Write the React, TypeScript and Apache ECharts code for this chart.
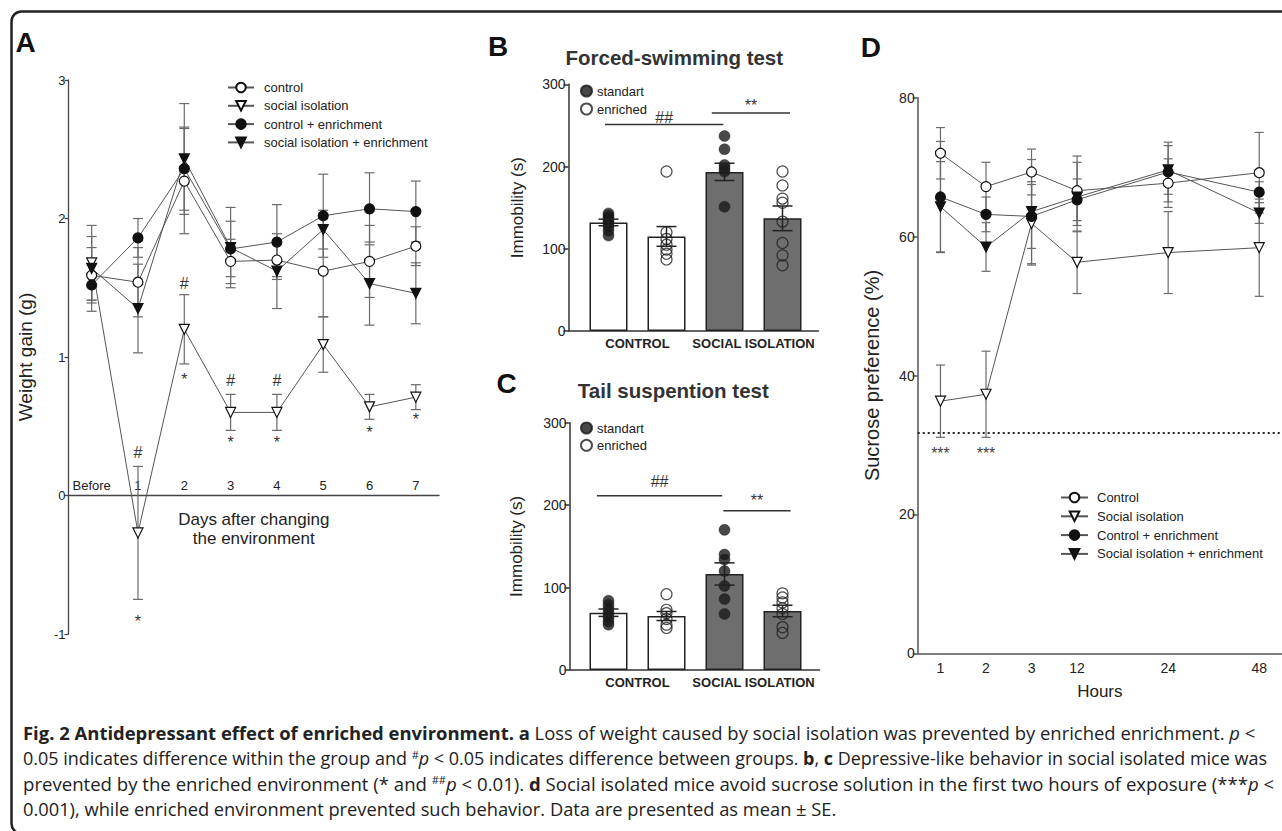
import { useEffect, useRef } from 'react';
import * as echarts from 'echarts';

const FONT = '"Liberation Sans", Arial, Helvetica, sans-serif';
const CAPTION_FONT = '"Open Sans", sans-serif';

// ---------------- Panel A: weight gain ----------------
const A_DAYS = ['Before', '1', '2', '3', '4', '5', '6', '7'];
const A_CONTROL = [1.59, 1.54, 2.27, 1.69, 1.70, 1.62, 1.69, 1.80];
const A_CONTROL_SE = [0.20, 0.25, 0.38, 0.16, 0.12, 0.33, 0.26, 0.14];
const A_ISO = [1.68, -0.27, 1.20, 0.60, 0.60, 1.09, 0.64, 0.71];
const A_ISO_SE = [0.27, 0.48, 0.25, 0.13, 0.13, 0.20, 0.09, 0.09];
const A_CTRL_ENR = [1.52, 1.86, 2.36, 1.78, 1.83, 2.02, 2.07, 2.05];
const A_CTRL_ENR_SE = [0.19, 0.14, 0.30, 0.20, 0.27, 0.30, 0.26, 0.22];
const A_ISO_ENR = [1.64, 1.35, 2.43, 1.79, 1.62, 1.92, 1.53, 1.46];
const A_ISO_ENR_SE = [0.23, 0.32, 0.40, 0.29, 0.27, 0.14, 0.30, 0.22];
const A_HASH = [[1, 0.31], [2, 1.53], [3, 0.83], [4, 0.83]];
const A_STAR = [[1, -0.885], [2, 0.864], [3, 0.41], [4, 0.41], [6, 0.48], [7, 0.575]];

// ---------------- Panels B / C ----------------
const BC_GROUPS = ['CONTROL', 'SOCIAL ISOLATION'];
const BC_BARS = ['control standart', 'control enriched', 'isolation standart', 'isolation enriched'];

const B_MEAN = [132, 115, 193.5, 137];
const B_SE = [4, 12, 10.5, 15];
const B_STD_CONTROL = [143, 140, 137, 134, 131, 127, 122, 116];
const B_ENR_CONTROL = [194, 120, 112, 105, 99, 94, 87];
const B_STD_ISO = [237, 221, 202, 198, 194, 151];
const B_ENR_ISO = [194, 177, 161, 156, 133, 107, 92, 80];
const B_SIG: [number, number, number, string][] = [[-0.06, 1.98, 251, '##'], [1.78, 3.13, 265, '**']];

const C_MEAN = [69.5, 65.5, 116.5, 71.6];
const C_SE = [4.5, 5.5, 13.5, 7];
const C_STD_CONTROL = [84, 79, 74, 69, 64, 59, 55];
const C_ENR_CONTROL = [92, 73, 69, 62, 55, 51];
const C_STD_ISO = [170, 140, 134, 120, 102, 86, 68];
const C_ENR_ISO = [93, 88, 82, 75, 68, 52, 45];
const C_SIG: [number, number, number, string][] = [[-0.2, 1.96, 211.5, '##'], [1.98, 3.14, 193.3, '**']];

// ---------------- Panel D: sucrose preference ----------------
const D_HOURS = ['1', '2', '3', '12', '24', '48'];
const D_CONTROL = [72.0, 67.2, 69.3, 66.6, 67.7, 69.2];
const D_CONTROL_SE = [3.7, 3.5, 3.3, 5.0, 3.5, 5.8];
const D_ISO = [36.3, 37.3, 61.9, 56.3, 57.7, 58.4];
const D_ISO_SE = [5.2, 6.2, 6.0, 4.5, 5.9, 7.0];
const D_CTRL_ENR = [65.7, 63.2, 62.9, 65.3, 69.3, 66.4];
const D_CTRL_ENR_SE = [8.0, 2.5, 4.6, 3.0, 4.3, 1.5];
const D_ISO_ENR = [64.3, 58.5, 63.6, 65.7, 69.6, 63.4];
const D_ISO_ENR_SE = [6.5, 3.5, 7.5, 5.0, 3.5, 1.5];
const D_CHANCE = 31.8;
const D_STAR: [string, number][] = [['1', 29.3], ['2', 29.3]];

// ---------------- caption ----------------
const CAPTION_LINES = [
  '{b|Fig. 2 Antidepressant effect of enriched environment. a} Loss of weight caused by social isolation was prevented by enriched enrichment. {i|p} <',
  '0.05 indicates difference within the group and {s|#}{i|p} < 0.05 indicates difference between groups. {b|b}, {b|c} Depressive-like behavior in social isolated mice was',
  'prevented by the enriched environment (* and {s|##}{i|p} < 0.01). {b|d} Social isolated mice avoid sucrose solution in the first two hours of exposure (***{i|p} <',
  '0.001), while enriched environment prevented such behavior. Data are presented as mean ± SE.',
];

// ---------------- layout (not data) ----------------
const D_SLOT = [0, 1, 2, 3, 5, 7]; // where each hour sits on the 8-slot axis
const D_NSLOTS = 8;
const BAR_FILL = ['#ffffff', '#ffffff', '#6e6e6e', '#6e6e6e'];
const B_SIG_GAP = [7, 11];
const C_SIG_GAP = [14, 14];
const CAPTION_Y = [732, 757.5, 783, 808.5];
const CAPTION_SIZE = [18.46, 17.98, 18.6, 18.3];

const starShift = (t: string, size: number) => (t.indexOf('*') >= 0 ? size * 0.23 : 0);

const errRender = (cap: number, color: string, width: number) => (params: any, api: any) => {
  const x = api.value(0);
  const m = api.value(1);
  const e = api.value(2);
  const hi = api.coord([x, m + e]);
  const lo = api.coord([x, m - e]);
  const st = { stroke: color, lineWidth: width, fill: 'none' };
  return {
    type: 'group',
    children: [
      { type: 'line', shape: { x1: hi[0], y1: hi[1], x2: lo[0], y2: lo[1] }, style: st },
      { type: 'line', shape: { x1: hi[0] - cap / 2, y1: hi[1], x2: hi[0] + cap / 2, y2: hi[1] }, style: st },
      { type: 'line', shape: { x1: lo[0] - cap / 2, y1: lo[1], x2: lo[0] + cap / 2, y2: lo[1] }, style: st },
    ],
  };
};

const textRender = (txt: string, size: number, color: string) => (params: any, api: any) => {
  const c = api.coord([api.value(0), api.value(1)]);
  return {
    type: 'text',
    x: c[0],
    y: c[1] + starShift(txt, size),
    style: { text: txt, fontFamily: FONT, fontSize: size, fill: color, align: 'center', verticalAlign: 'middle' },
  };
};

const sigRender = (sigs: [number, number, number, string][], gaps: number[]) => (params: any, api: any) => {
  const s = sigs[params.dataIndex];
  const a = api.coord([s[0], s[2]]);
  const b = api.coord([s[1], s[2]]);
  const size = 16;
  return {
    type: 'group',
    children: [
      { type: 'line', shape: { x1: a[0], y1: a[1], x2: b[0], y2: b[1] }, style: { stroke: '#333', lineWidth: 1.5 } },
      {
        type: 'text',
        x: (a[0] + b[0]) / 2,
        y: a[1] - gaps[params.dataIndex] + starShift(s[3], size),
        style: { text: s[3], fontFamily: FONT, fontSize: size, fill: '#333', align: 'center', verticalAlign: 'middle' },
      },
    ],
  };
};

const toSlots = (vals: number[]) => {
  const out: (number | null)[] = Array(D_NSLOTS).fill(null);
  D_SLOT.forEach((s, i) => {
    out[s] = vals[i];
  });
  return out;
};

function buildOption() {
  const axisText = { fontFamily: FONT, color: '#222' };

  // ---------- grids ----------
  const A_TOP = 80;
  const A_H = 554;
  const A_MIN = -1;
  const A_MAX = 3;
  const grid = [
    { left: 68.5, top: A_TOP, width: 370.5, height: A_H }, // 0 A
    { left: 579.5, top: 84.3, width: 232, height: 246.7 }, // 1 B
    { left: 568.5, top: 84.3, width: 250, height: 246.7 }, // 2 B line
    { left: 579.5, top: 422.7, width: 232, height: 247.3 }, // 3 C
    { left: 569.5, top: 422.7, width: 250, height: 247.3 }, // 4 C line
    { left: 917.7, top: 97.7, width: 371.2, height: 555.6 }, // 5 D
  ];
  // the A x-axis sits at weight gain = 0
  const aZeroOffset = -((0 - A_MIN) / (A_MAX - A_MIN)) * A_H;

  const dCats: string[] = Array(D_NSLOTS).fill('');
  D_SLOT.forEach((s, i) => {
    dCats[s] = D_HOURS[i];
  });

  const barSlotAxis = (gi: number) => ({ type: 'category', gridIndex: gi, data: BC_BARS, show: false });
  const groupAxis = (gi: number) => ({
    type: 'category',
    gridIndex: gi,
    data: BC_GROUPS,
    position: 'bottom',
    axisLine: { show: false },
    axisTick: { show: false },
    axisLabel: { ...axisText, fontSize: 13, fontWeight: 'bold', margin: 6, interval: 0, hideOverlap: false },
  });
  const lineAxis = (gi: number, left: number) => ({
    type: 'value',
    gridIndex: gi,
    min: -((608.5 - left) / 58),
    max: -((608.5 - left) / 58) + 250 / 58,
    axisLine: { show: true, lineStyle: { color: '#333', width: 1.5 } },
    axisTick: { show: false },
    axisLabel: { show: false },
    splitLine: { show: false },
  });

  const xAxis: any[] = [
    {
      type: 'category',
      gridIndex: 0,
      data: A_DAYS,
      boundaryGap: true,
      position: 'bottom',
      offset: aZeroOffset,
      axisLine: { onZero: false, lineStyle: { color: '#444', width: 1.3 } },
      axisTick: { alignWithLabel: true, length: 5, lineStyle: { color: '#444', width: 1.3 } },
      axisLabel: { ...axisText, inside: true, fontSize: 13, margin: 4, interval: 0, hideOverlap: false },
      name: 'Days after changing\nthe environment',
      nameLocation: 'middle',
      nameGap: 14,
      nameTextStyle: { ...axisText, fontSize: 17, lineHeight: 19, verticalAlign: 'top' },
    },
    barSlotAxis(1),
    groupAxis(1),
    lineAxis(2, 568.5),
    barSlotAxis(3),
    groupAxis(3),
    lineAxis(4, 569.5),
    {
      type: 'category',
      gridIndex: 5,
      data: dCats,
      boundaryGap: true,
      axisLine: { lineStyle: { color: '#555', width: 1.5 } },
      axisTick: {
        alignWithLabel: true,
        length: 5,
        interval: (i: number, v: string) => v !== '',
        lineStyle: { color: '#555', width: 1.5 },
      },
      axisLabel: { ...axisText, fontSize: 14, margin: 8, interval: 0 },
      name: 'Hours',
      nameLocation: 'middle',
      nameGap: 30,
      nameTextStyle: { ...axisText, fontSize: 17 },
    },
  ];

  const barY = (gi: number, name: string, gap: number, offset: number) => ({
    type: 'value',
    gridIndex: gi,
    min: 0,
    max: 300,
    interval: 100,
    offset,
    axisLine: { show: true, lineStyle: { color: '#333', width: 1.5 } },
    axisTick: { show: true, length: 5, lineStyle: { color: '#333', width: 1.5 } },
    axisLabel: { ...axisText, fontSize: 14, margin: 3 },
    splitLine: { show: false },
    name,
    nameLocation: 'middle',
    nameGap: gap,
    nameTextStyle: { ...axisText, fontSize: 17 },
  });
  const hiddenY = (gi: number) => ({ type: 'value', gridIndex: gi, min: 0, max: 300, show: false, splitLine: { show: false } });

  const yAxis: any[] = [
    {
      type: 'value',
      gridIndex: 0,
      min: A_MIN,
      max: A_MAX,
      interval: 1,
      axisLine: { show: true, lineStyle: { color: '#444', width: 1.3 } },
      axisTick: { show: true, length: 4, lineStyle: { color: '#444', width: 1.3 } },
      axisLabel: { ...axisText, fontSize: 13, margin: 3 },
      splitLine: { show: false },
      name: 'Weight gain (g)',
      nameLocation: 'middle',
      nameGap: 34,
      nameTextStyle: { ...axisText, fontSize: 19 },
    },
    barY(1, 'Immobility (s)', 43, 11),
    hiddenY(2),
    barY(3, 'Immobility (s)', 45, 10),
    hiddenY(4),
    {
      type: 'value',
      gridIndex: 5,
      min: 0,
      max: 80,
      interval: 20,
      axisLine: { show: true, lineStyle: { color: '#555', width: 1.5 } },
      axisTick: { show: true, length: 5, lineStyle: { color: '#555', width: 1.5 } },
      axisLabel: { ...axisText, fontSize: 14, margin: 3 },
      splitLine: { show: false },
      name: 'Sucrose preference (%)',
      nameLocation: 'middle',
      nameGap: 36,
      nameTextStyle: { ...axisText, fontSize: 20 },
    },
  ];

  const series: any[] = [];

  // ---------- A ----------
  const aDefs = [
    { name: 'control', data: A_CONTROL, se: A_CONTROL_SE, symbol: 'circle', rot: 0, fill: '#ffffff' },
    { name: 'social isolation', data: A_ISO, se: A_ISO_SE, symbol: 'triangle', rot: 180, fill: '#ffffff' },
    { name: 'control + enrichment', data: A_CTRL_ENR, se: A_CTRL_ENR_SE, symbol: 'circle', rot: 0, fill: '#111111' },
    { name: 'social isolation + enrichment', data: A_ISO_ENR, se: A_ISO_ENR_SE, symbol: 'triangle', rot: 180, fill: '#111111' },
  ];
  aDefs.forEach((d) => {
    series.push({
      type: 'custom',
      xAxisIndex: 0,
      yAxisIndex: 0,
      z: 2,
      silent: true,
      data: d.data.map((m, i) => [i, m, d.se[i]]),
      renderItem: errRender(10, '#6a6a6a', 1.2),
    });
  });
  aDefs.forEach((d) => {
    series.push({
      type: 'line',
      name: d.name,
      xAxisIndex: 0,
      yAxisIndex: 0,
      z: 3,
      data: d.data,
      symbol: d.symbol,
      symbolRotate: d.rot,
      symbolSize: 10,
      itemStyle: { color: d.fill, borderColor: '#111', borderWidth: 1.2 },
      lineStyle: { color: '#555', width: 1 },
    });
  });
  series.push({ type: 'custom', xAxisIndex: 0, yAxisIndex: 0, z: 4, silent: true, data: A_HASH, renderItem: textRender('#', 16, '#333') });
  series.push({ type: 'custom', xAxisIndex: 0, yAxisIndex: 0, z: 4, silent: true, data: A_STAR, renderItem: textRender('*', 16, '#333') });

  // ---------- B / C ----------
  const barPanel = (xi: number, yi: number, xLine: number, yLine: number, mean: number[], se: number[],
    stdC: number[], enrC: number[], stdI: number[], enrI: number[], sig: [number, number, number, string][], gaps: number[]) => {
    series.push({
      type: 'bar',
      xAxisIndex: xi,
      yAxisIndex: yi,
      z: 2,
      barWidth: 38,
      data: mean.map((v, i) => ({ value: v, itemStyle: { color: BAR_FILL[i] } })),
      itemStyle: { borderColor: '#222', borderWidth: 1.5 },
    });
    series.push({
      type: 'scatter',
      name: 'standart',
      xAxisIndex: xi,
      yAxisIndex: yi,
      z: 4,
      symbolSize: 11,
      data: [...stdC.map((v) => [0, v]), ...stdI.map((v) => [2, v])],
      itemStyle: { color: '#1a1a1a', borderColor: '#1a1a1a', borderWidth: 0.5 },
    });
    series.push({
      type: 'scatter',
      name: 'enriched',
      xAxisIndex: xi,
      yAxisIndex: yi,
      z: 4,
      symbolSize: 11,
      data: [...enrC.map((v) => [1, v]), ...enrI.map((v) => [3, v])],
      itemStyle: { color: 'rgba(0,0,0,0)', borderColor: '#222', borderWidth: 1.2 },
    });
    series.push({
      type: 'custom',
      xAxisIndex: xi,
      yAxisIndex: yi,
      z: 5,
      silent: true,
      data: mean.map((m, i) => [i, m, se[i]]),
      renderItem: errRender(20, '#222', 1.5),
    });
    series.push({
      type: 'custom',
      xAxisIndex: xLine,
      yAxisIndex: yLine,
      z: 5,
      silent: true,
      data: sig.map((s) => [s[0], s[1], s[2]]),
      encode: { x: [0, 1], y: 2 },
      renderItem: sigRender(sig, gaps),
    });
  };
  barPanel(1, 1, 3, 2, B_MEAN, B_SE, B_STD_CONTROL, B_ENR_CONTROL, B_STD_ISO, B_ENR_ISO, B_SIG, B_SIG_GAP);
  barPanel(4, 3, 6, 4, C_MEAN, C_SE, C_STD_CONTROL, C_ENR_CONTROL, C_STD_ISO, C_ENR_ISO, C_SIG, C_SIG_GAP);

  // ---------- D ----------
  const dDefs = [
    { name: 'Control', data: D_CONTROL, se: D_CONTROL_SE, symbol: 'circle', rot: 0, fill: '#ffffff' },
    { name: 'Social isolation', data: D_ISO, se: D_ISO_SE, symbol: 'triangle', rot: 180, fill: '#ffffff' },
    { name: 'Control + enrichment', data: D_CTRL_ENR, se: D_CTRL_ENR_SE, symbol: 'circle', rot: 0, fill: '#111111' },
    { name: 'Social isolation + enrichment', data: D_ISO_ENR, se: D_ISO_ENR_SE, symbol: 'triangle', rot: 180, fill: '#111111' },
  ];
  dDefs.forEach((d) => {
    series.push({
      type: 'custom',
      xAxisIndex: 7,
      yAxisIndex: 5,
      z: 2,
      silent: true,
      data: d.data.map((m, i) => [D_SLOT[i], m, d.se[i]]),
      renderItem: errRender(9, '#6a6a6a', 1.2),
    });
  });
  dDefs.forEach((d, k) => {
    series.push({
      type: 'line',
      name: d.name,
      xAxisIndex: 7,
      yAxisIndex: 5,
      z: 3,
      connectNulls: true,
      data: toSlots(d.data),
      symbol: d.symbol,
      symbolRotate: d.rot,
      symbolSize: 10,
      itemStyle: { color: d.fill, borderColor: '#111', borderWidth: 1.2 },
      lineStyle: { color: '#555', width: 1 },
      markLine: k === 1
        ? {
            silent: true,
            symbol: 'none',
            label: { show: false },
            lineStyle: { color: '#222', width: 2, type: [2, 3] },
            data: [{ yAxis: D_CHANCE }],
          }
        : undefined,
    });
  });
  series.push({
    type: 'custom',
    xAxisIndex: 7,
    yAxisIndex: 5,
    z: 4,
    silent: true,
    data: D_STAR.map((s) => [D_SLOT[D_HOURS.indexOf(s[0])], s[1]]),
    renderItem: textRender('***', 16, '#444'),
  });

  // ---------- legends ----------
  const legText = { fontFamily: FONT, fontSize: 13, color: '#222' };
  const legend: any[] = [
    {
      data: aDefs.map((d) => d.name),
      orient: 'vertical',
      left: 222,
      top: 76,
      itemWidth: 26,
      itemHeight: 12,
      itemGap: 5.3,
      selectedMode: false,
      textStyle: { ...legText, padding: [0, 0, 0, 5] },
    },
    {
      data: ['standart', 'enriched'],
      orient: 'vertical',
      left: 575,
      top: 79.5,
      itemWidth: 11,
      itemHeight: 11,
      itemGap: 5,
      selectedMode: false,
      textStyle: { ...legText },
    },
    {
      data: ['standart', 'enriched'],
      orient: 'vertical',
      left: 575,
      top: 416.5,
      itemWidth: 11,
      itemHeight: 11,
      itemGap: 4.3,
      selectedMode: false,
      textStyle: { ...legText },
    },
    {
      data: dDefs.map((d) => d.name),
      orient: 'vertical',
      left: 1055,
      top: 486,
      itemWidth: 27,
      itemHeight: 12,
      itemGap: 5.8,
      selectedMode: false,
      textStyle: { ...legText, padding: [0, 0, 0, 4] },
    },
  ];

  // ---------- graphic: frame, letters, titles, caption ----------
  const letter = (t: string, x: number, y: number) => ({
    type: 'text',
    x,
    y,
    silent: true,
    style: { text: t, fontFamily: FONT, fontWeight: 'bold', fontSize: 28, fill: '#111', align: 'center', verticalAlign: 'middle' },
  });
  const title = (t: string, x: number, y: number) => ({
    type: 'text',
    x,
    y,
    silent: true,
    style: { text: t, fontFamily: FONT, fontWeight: 'bold', fontSize: 20.5, fill: '#333', align: 'center', verticalAlign: 'middle' },
  });
  const richFor = (size: number) => ({
    b: { fontFamily: CAPTION_FONT, fontSize: size, fontWeight: 'bold', fill: '#222' },
    i: { fontFamily: CAPTION_FONT, fontSize: size, fontStyle: 'italic', fill: '#222' },
    s: { fontFamily: CAPTION_FONT, fontSize: 11, fill: '#222', verticalAlign: 'top' },
  });

  const graphic: any[] = [
    {
      type: 'rect',
      silent: true,
      z: -10,
      shape: { x: 11.5, y: 11.5, width: 1300, height: 822, r: 10 },
      style: { fill: 'none', stroke: '#222', lineWidth: 2.5 },
    },
    letter('A', 25.5, 42.5),
    letter('B', 498, 46),
    letter('C', 506.7, 383.5),
    letter('D', 870.8, 47.5),
    title('Forced-swimming test', 674.3, 57.5),
    title('Tail suspention test', 673.3, 390),
    ...CAPTION_LINES.map((t, i) => ({
      type: 'text',
      x: 23,
      y: CAPTION_Y[i],
      silent: true,
      style: {
        text: t,
        rich: richFor(CAPTION_SIZE[i]),
        fontFamily: CAPTION_FONT,
        fontSize: CAPTION_SIZE[i],
        fill: '#222',
        verticalAlign: 'middle',
      },
    })),
  ];

  return {
    animation: false,
    backgroundColor: '#ffffff',
    textStyle: { fontFamily: FONT },
    grid,
    xAxis,
    yAxis,
    legend,
    series,
    graphic,
  };
}

export default function App() {
  const ref = useRef<HTMLDivElement>(null);
  useEffect(() => {
    const chart = echarts.init(ref.current as HTMLDivElement, null, { renderer: 'svg' });
    chart.setOption(buildOption() as any);
    return () => chart.dispose();
  }, []);
  return (
    <div
      ref={ref}
      style={{ position: 'absolute', left: 0, top: 0, width: 1282, height: 831, background: '#fff' }}
    />
  );
}
